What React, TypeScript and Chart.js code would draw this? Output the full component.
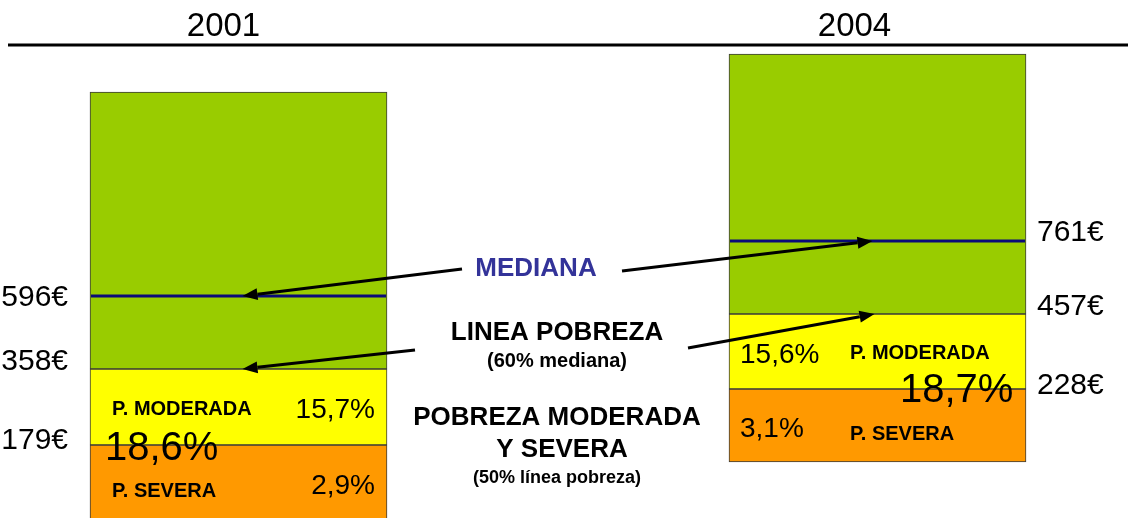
import React, { useEffect, useRef } from "react";
import { Chart, registerables } from "chart.js";

Chart.register(...registerables);

// ---- data (schematic band heights) ----
const years = ["2001", "2004"];
const severeBand: [number, number][] = [[-12, 73], [56, 129]];
const moderateBand: [number, number][] = [[73, 149], [129, 204]];
const restBand: [number, number][] = [[149, 426], [204, 464]];
const medianLevel = [222, 277];
const severeEuro = ["179€", "228€"];
const povertyEuro = ["358€", "457€"];
const medianEuro = ["596€", "761€"];
const moderatePct = ["15,7%", "15,6%"];
const severePct = ["2,9%", "3,1%"];
const totalPct = ["18,6%", "18,7%"];

const FONT = "'Liberation Sans', Arial, sans-serif";
const BAR_W = 297;

function arrow(ctx: CanvasRenderingContext2D, x1: number, y1: number, x2: number, y2: number) {
  const ang = Math.atan2(y2 - y1, x2 - x1);
  const len = 15;
  const hw = 6;
  const bx = x2 - len * Math.cos(ang);
  const by = y2 - len * Math.sin(ang);
  ctx.beginPath();
  ctx.moveTo(x1, y1);
  ctx.lineTo(bx, by);
  ctx.strokeStyle = "#000";
  ctx.lineWidth = 3;
  ctx.stroke();
  ctx.beginPath();
  ctx.moveTo(x2, y2);
  ctx.lineTo(bx + hw * Math.sin(ang), by - hw * Math.cos(ang));
  ctx.lineTo(bx - hw * Math.sin(ang), by + hw * Math.cos(ang));
  ctx.closePath();
  ctx.fillStyle = "#000";
  ctx.fill();
}

const overlay = {
  id: "overlay",
  afterDatasetsDraw(chart: any) {
    const ctx: CanvasRenderingContext2D = chart.ctx;
    const xs = chart.scales.x;
    const ys = chart.scales.y;
    ctx.save();

    // header rule and titles
    ctx.beginPath();
    ctx.moveTo(8, 45);
    ctx.lineTo(1128, 45);
    ctx.strokeStyle = "#000";
    ctx.lineWidth = 3;
    ctx.stroke();
    ctx.fillStyle = "#000";
    ctx.font = `33px ${FONT}`;
    ctx.textAlign = "center";
    ctx.textBaseline = "alphabetic";
    const titleShift = [-15, -23];
    years.forEach((y, i) => ctx.fillText(y, xs.getPixelForValue(i) + titleShift[i], 36));

    const medPix: number[] = [];
    const povPix: number[] = [];
    years.forEach((_, i) => {
      const cx = xs.getPixelForValue(i);
      const left = cx - BAR_W / 2;
      const right = cx + BAR_W / 2;
      const yMed = ys.getPixelForValue(medianLevel[i]);
      const yPov = ys.getPixelForValue(moderateBand[i][1]);
      const ySev = ys.getPixelForValue(severeBand[i][1]);
      medPix.push(yMed);
      povPix.push(yPov);

      // median line
      ctx.beginPath();
      ctx.moveTo(left + 1, yMed);
      ctx.lineTo(right - 1, yMed);
      ctx.strokeStyle = "#0A0A78";
      ctx.lineWidth = 3;
      ctx.stroke();

      // euro labels
      ctx.fillStyle = "#000";
      ctx.font = `30px ${FONT}`;
      ctx.textBaseline = "middle";
      if (i === 0) {
        ctx.textAlign = "right";
        const lx = left - 22;
        ctx.fillText(medianEuro[i], lx, yMed + 2);
        ctx.fillText(povertyEuro[i], lx, yPov - 7);
        ctx.fillText(severeEuro[i], lx, ySev - 4);
      } else {
        ctx.textAlign = "left";
        const lx = right + 11;
        ctx.fillText(medianEuro[i], lx, yMed - 8);
        ctx.fillText(povertyEuro[i], lx, yPov - 7);
        ctx.fillText(severeEuro[i], lx, ySev - 3);
      }

      // in-bar texts
      ctx.textAlign = "left";
      if (i === 0) {
        ctx.font = `bold 20px ${FONT}`;
        ctx.fillText("P. MODERADA", left + 22, yPov + 40);
        ctx.fillText("P. SEVERA", left + 22, ySev + 46);
        ctx.font = `28px ${FONT}`;
        ctx.textAlign = "right";
        ctx.fillText(moderatePct[i], right - 12, yPov + 41);
        ctx.fillText(severePct[i], right - 12, ySev + 41);
        ctx.textAlign = "left";
        ctx.font = `40px ${FONT}`;
        ctx.fillText(totalPct[i], left + 15, ySev + 4);
      } else {
        ctx.font = `bold 20px ${FONT}`;
        ctx.fillText("P. MODERADA", left + 121, yPov + 39);
        ctx.fillText("P. SEVERA", left + 121, ySev + 45);
        ctx.font = `28px ${FONT}`;
        ctx.fillText(moderatePct[i], left + 11, yPov + 41);
        ctx.fillText(severePct[i], left + 11, ySev + 40);
        ctx.font = `40px ${FONT}`;
        ctx.fillText(totalPct[i], left + 171, ySev + 2);
      }
    });

    // middle annotations
    ctx.textAlign = "center";
    ctx.textBaseline = "middle";
    ctx.fillStyle = "#333399";
    ctx.font = `bold 26px ${FONT}`;
    ctx.fillText("MEDIANA", 536, 269);
    ctx.fillStyle = "#000";
    ctx.fillText("LINEA POBREZA", 557, 333);
    ctx.fillText("POBREZA MODERADA", 557, 418);
    ctx.fillText("Y SEVERA", 562, 450);
    ctx.font = `bold 20px ${FONT}`;
    ctx.fillText("(60% mediana)", 557, 361);
    ctx.font = `bold 18px ${FONT}`;
    ctx.fillText("(50% línea pobreza)", 557, 478);

    const c0 = xs.getPixelForValue(0);
    const c1 = xs.getPixelForValue(1);
    arrow(ctx, 462, 269, c0 + 4, medPix[0]);
    arrow(ctx, 622, 271, c1 - 5, medPix[1]);
    arrow(ctx, 415, 350, c0 + 4, povPix[0]);
    arrow(ctx, 688, 348, c1 - 3, povPix[1]);

    ctx.restore();
  },
};

export default function App() {
  const ref = useRef<HTMLCanvasElement | null>(null);
  useEffect(() => {
    if (!ref.current) return;
    const common = {
      borderColor: "#3a3a3a",
      borderWidth: 1,
      borderSkipped: false,
      grouped: false,
      barThickness: BAR_W,
      clip: false as any,
    };
    const chart = new Chart(ref.current, {
      type: "bar",
      data: {
        labels: years,
        datasets: [
          { label: "P. severa", data: severeBand as any, backgroundColor: "#FF9900", ...common },
          { label: "P. moderada", data: moderateBand as any, backgroundColor: "#FFFF00", ...common },
          { label: "Resto", data: restBand as any, backgroundColor: "#99CC00", ...common },
        ],
      },
      options: {
        responsive: false,
        animation: false,
        devicePixelRatio: 1,
        layout: { padding: { left: 238.5, right: 250.5, top: 54, bottom: 0 } },
        scales: {
          x: { type: "category", offset: false, display: false },
          y: { min: 0, max: 464, display: false },
        },
        plugins: { legend: { display: false }, tooltip: { enabled: false } },
      } as any,
      plugins: [overlay],
    });
    return () => chart.destroy();
  }, []);
  return (
    <div style={{ position: "absolute", left: 0, top: 0, width: 1128, height: 518, background: "#fff" }}>
      <canvas ref={ref} width={1128} height={518} style={{ display: "block", width: 1128, height: 518 }} />
    </div>
  );
}
